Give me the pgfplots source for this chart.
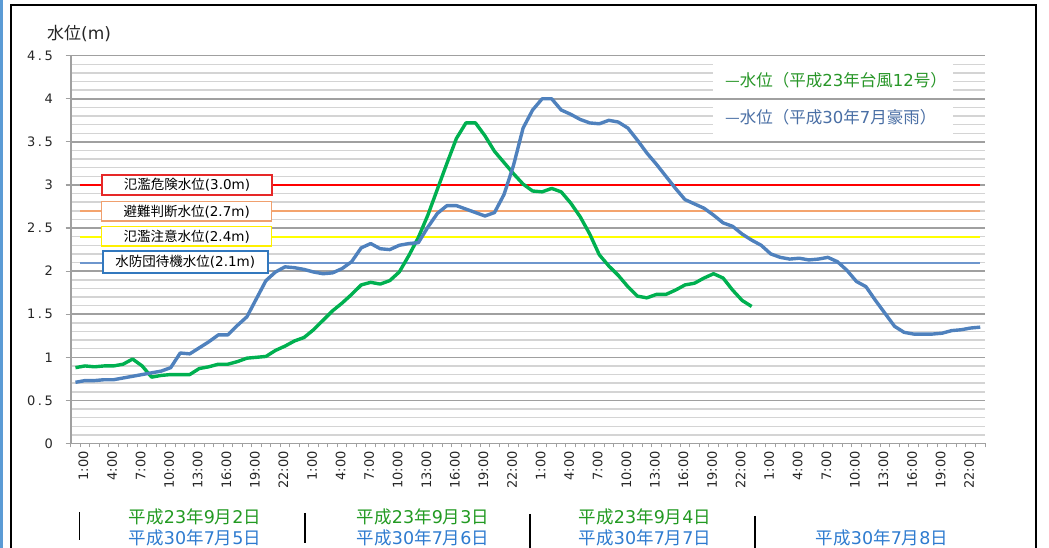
\documentclass[border=0pt]{standalone}
\usepackage{fontspec}
\usepackage{pgfplots}
\pgfplotsset{compat=1.18}
\setmainfont{DejaVu Sans}
\newfontfamily\jp{Noto Sans CJK JP}
\newfontfamily\ytf[LetterSpace=20]{DejaVu Sans}
\newcommand\fs[1]{\fontsize{#1}{#1}\selectfont}
\definecolor{sgreen}{RGB}{0,176,80}
\definecolor{sblue}{RGB}{79,129,189}
\definecolor{lgreen}{RGB}{40,150,40}
\definecolor{lblue}{RGB}{74,111,165}
\definecolor{dgreen}{RGB}{34,154,34}
\definecolor{dblue}{RGB}{46,123,207}
\definecolor{thorange}{RGB}{244,164,110}
\definecolor{thyellow}{RGB}{255,255,0}
\definecolor{thblue}{RGB}{110,150,205}
\definecolor{bxred}{RGB}{230,40,40}
\definecolor{bxorange}{RGB}{240,160,110}
\definecolor{bxyellow}{RGB}{255,240,0}
\definecolor{bxblue}{RGB}{50,120,190}
\definecolor{gmaj}{RGB}{160,160,160}
\definecolor{gmin}{RGB}{212,212,212}
\definecolor{frameblue}{RGB}{91,155,213}
\pgfplotstableread{
i v
0 0.71
1 0.73
2 0.73
3 0.74
4 0.74
5 0.76
6 0.78
7 0.80
8 0.82
9 0.84
10 0.88
11 1.05
12 1.04
13 1.11
14 1.18
15 1.26
16 1.26
17 1.37
18 1.47
19 1.68
20 1.89
21 1.99
22 2.05
23 2.04
24 2.02
25 1.99
26 1.97
27 1.98
28 2.03
29 2.11
30 2.27
31 2.32
32 2.26
33 2.25
34 2.30
35 2.32
36 2.33
37 2.51
38 2.67
39 2.76
40 2.76
41 2.72
42 2.68
43 2.64
44 2.68
45 2.89
46 3.23
47 3.66
48 3.87
49 4.00
50 4.00
51 3.87
52 3.82
53 3.76
54 3.72
55 3.71
56 3.75
57 3.73
58 3.66
59 3.52
60 3.37
61 3.24
62 3.10
63 2.96
64 2.83
65 2.78
66 2.73
67 2.65
68 2.56
69 2.52
70 2.43
71 2.36
72 2.30
73 2.20
74 2.16
75 2.14
76 2.15
77 2.13
78 2.14
79 2.16
80 2.11
81 2.01
82 1.88
83 1.82
84 1.66
85 1.51
86 1.36
87 1.29
88 1.27
89 1.27
90 1.27
91 1.28
92 1.31
93 1.32
94 1.34
95 1.35
}\hthirty
\pgfplotstableread{
i v
0 0.88
1 0.90
2 0.89
3 0.90
4 0.90
5 0.92
6 0.98
7 0.90
8 0.77
9 0.79
10 0.80
11 0.80
12 0.80
13 0.87
14 0.89
15 0.92
16 0.92
17 0.95
18 0.99
19 1.00
20 1.01
21 1.08
22 1.13
23 1.19
24 1.23
25 1.32
26 1.43
27 1.54
28 1.63
29 1.73
30 1.84
31 1.87
32 1.85
33 1.89
34 1.99
35 2.18
36 2.39
37 2.65
38 2.95
39 3.25
40 3.54
41 3.72
42 3.72
43 3.57
44 3.39
45 3.26
46 3.13
47 3.01
48 2.93
49 2.92
50 2.96
51 2.92
52 2.79
53 2.63
54 2.43
55 2.19
56 2.06
57 1.95
58 1.82
59 1.71
60 1.69
61 1.73
62 1.73
63 1.78
64 1.84
65 1.86
66 1.92
67 1.97
68 1.92
69 1.78
70 1.66
71 1.59
}\htwothree
\begin{document}
\begin{tikzpicture}[x=1pt,y=1pt]
\useasboundingbox (0,0) rectangle (1049,548);
\begin{axis}[
  at={(70.7pt,104.5pt)}, anchor=south west,
  scale only axis, width=914.3pt, height=387.8pt,
  xmin=-0.5, xmax=95.5, ymin=0, ymax=4.5,
  axis x line=bottom, axis y line=left,
  axis line style={-, draw=gmaj, line width=1.8pt},
  ytick={0,0.5,...,4.5},
  minor y tick num=4,
  ymajorgrids, yminorgrids,
  major grid style={draw=gmaj, line width=1.5pt},
  minor grid style={draw=gmin, line width=1.5pt},
  tick align=outside,
  major y tick style={draw=gmaj, line width=1.2pt, /pgfplots/major tick length=5pt},
  minor y tick style={draw=none, /pgfplots/minor tick length=0pt},
  xtick={0,3,...,93},
  xticklabels={1:00,4:00,7:00,10:00,13:00,16:00,19:00,22:00,1:00,4:00,7:00,10:00,13:00,16:00,19:00,22:00,1:00,4:00,7:00,10:00,13:00,16:00,19:00,22:00,1:00,4:00,7:00,10:00,13:00,16:00,19:00,22:00},
  major x tick style={draw=none, /pgfplots/major tick length=0pt},
  minor xtick={-0.5,0.5,...,95.5},
  minor x tick style={draw=gmaj, line width=1pt, /pgfplots/minor tick length=4pt},
  xticklabel style={rotate=90, anchor=east, font=\fs{13}, text=black!85, yshift=-8pt},
  yticklabel style={font=\ytf\fs{13}, text=black!85, xshift=-10pt},
  /pgf/number format/assume math mode=true,
  clip=false,
]
\addplot[red, line width=2pt] coordinates {(0.5,3) (95,3)};
\addplot[thorange, line width=2pt] coordinates {(0.5,2.7) (95,2.7)};
\addplot[thyellow, line width=2pt] coordinates {(0.5,2.4) (95,2.4)};
\addplot[thblue, line width=2pt] coordinates {(0.5,2.1) (95,2.1)};
\addplot[sgreen, line width=3.4pt, line join=round] table[x=i,y=v] {\htwothree};
\addplot[sblue, line width=3.4pt, line join=round] table[x=i,y=v] {\hthirty};
\end{axis}
% frame
\draw[black, line width=2pt] (11,0) -- (11,542.5) -- (1036,542.5) -- (1036,0);
\draw[frameblue, line width=2.6pt] (1.3,0) -- (1.3,548);
% y title
\node[anchor=west, inner sep=0pt, text=black!85] at (47,514) {\fs{17}{\jp 水位}(m)};
% threshold boxes
\node[draw=bxred, line width=1.5pt, fill=white, minimum width=170pt, minimum height=20pt, inner sep=0pt] at (187,363) {\fs{13.5}{\jp 氾濫危険水位}(3.0m)};
\node[draw=bxorange, line width=1.5pt, fill=white, minimum width=170pt, minimum height=19.5pt, inner sep=0pt] at (186.7,336.7) {\fs{13.5}{\jp 避難判断水位}(2.7m)};
\node[draw=bxyellow, line width=1.5pt, fill=white, minimum width=170pt, minimum height=19.5pt, inner sep=0pt] at (186.7,311.7) {\fs{13.5}{\jp 氾濫注意水位}(2.4m)};
\node[draw=bxblue, line width=1.5pt, fill=white, minimum width=165pt, minimum height=22pt, inner sep=0pt] at (185.3,286) {\fs{13.5}{\jp 水防団待機水位}(2.1m)};
% legend
\fill[white] (713,490) rectangle (953,451);
\fill[white] (713,447) rectangle (953,409);
\node[anchor=west, inner sep=0pt, text=lgreen] at (725,468) {\fs{16.5}{\jp —水位（平成}23{\jp 年台風}12{\jp 号）}};
\node[anchor=west, inner sep=0pt, text=lblue] at (725,431) {\fs{16.5}{\jp —水位（平成}30{\jp 年}7{\jp 月豪雨）}};
% day separators
\draw[black, line width=1.5pt] (79.3,36) -- (79.3,8);
\draw[black, line width=1.5pt] (305,35) -- (305,5);
\draw[black, line width=1.5pt] (530,34) -- (530,0);
\draw[black, line width=1.5pt] (755,32) -- (755,0);
% date labels
\node[text=dgreen, inner sep=0pt] at (195,31) {\fs{17.5}{\jp 平成}23{\jp 年}9{\jp 月}2{\jp 日}};
\node[text=dblue, inner sep=0pt] at (195,10) {\fs{17.5}{\jp 平成}30{\jp 年}7{\jp 月}5{\jp 日}};
\node[text=dgreen, inner sep=0pt] at (423,31) {\fs{17.5}{\jp 平成}23{\jp 年}9{\jp 月}3{\jp 日}};
\node[text=dblue, inner sep=0pt] at (423,10) {\fs{17.5}{\jp 平成}30{\jp 年}7{\jp 月}6{\jp 日}};
\node[text=dgreen, inner sep=0pt] at (645,31) {\fs{17.5}{\jp 平成}23{\jp 年}9{\jp 月}4{\jp 日}};
\node[text=dblue, inner sep=0pt] at (645,10) {\fs{17.5}{\jp 平成}30{\jp 年}7{\jp 月}7{\jp 日}};
\node[text=dblue, inner sep=0pt] at (882,10) {\fs{17.5}{\jp 平成}30{\jp 年}7{\jp 月}8{\jp 日}};
\end{tikzpicture}
\end{document}
